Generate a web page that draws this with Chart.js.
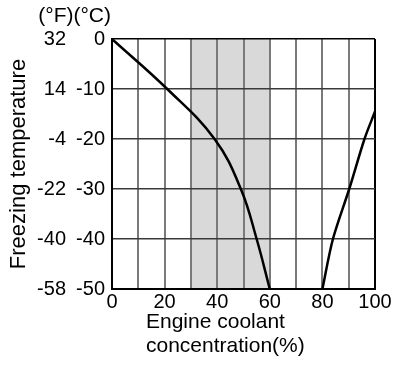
<!DOCTYPE html>
<html>
<head>
<meta charset="utf-8">
<script src="https://cdn.jsdelivr.net/npm/chart.js@4.4.1/dist/chart.umd.min.js"></script>
<style>
  html, body { margin: 0; padding: 0; background: #fff; }
  #wrap { width: 395px; height: 366px; }
</style>
</head>
<body>
<div id="wrap"><canvas id="chart"></canvas></div>
<script>
// coolant concentration (%) vs freezing point (°C)
const lowX = [0, 21, 39, 49, 55, 60];
const lowY = [0, -10, -20, -30, -40, -50];
const highX = [80, 84, 90.2, 96, 100];
const highY = [-50, -40, -30, -20, -14.5];

// recommended range
const bandFrom = 30;
const bandTo = 60;

const xTitle = ["Engine coolant", "concentration(%)"];
const yTitle = "Freezing temperature";
const unitHeader = "(°F)(°C)";

const FONT = "'Liberation Sans', Arial, sans-serif";

const toPoints = (xs, ys) => xs.map((x, i) => ({ x: x, y: ys[i] }));

// grey band behind the grid
const bandPlugin = {
  id: "band",
  beforeDraw(chart) {
    const { ctx, chartArea, scales } = chart;
    const x0 = scales.x.getPixelForValue(bandFrom);
    const x1 = scales.x.getPixelForValue(bandTo);
    ctx.save();
    ctx.fillStyle = "#d9d9d9";
    ctx.fillRect(x0, chartArea.top, x1 - x0, chartArea.bottom - chartArea.top);
    ctx.restore();
  }
};

// unit header and the two-line x title
const textPlugin = {
  id: "texts",
  afterDraw(chart) {
    const { ctx, chartArea } = chart;
    ctx.save();
    ctx.fillStyle = "#000";
    ctx.font = "21px " + FONT;
    ctx.textAlign = "right";
    ctx.textBaseline = "alphabetic";
    ctx.fillText(unitHeader, chartArea.left - 1, 22);
    ctx.textAlign = "left";
    ctx.fillText(xTitle[0], chartArea.left + 34, 328);
    ctx.fillText(xTitle[1], chartArea.left + 34, 352);
    ctx.restore();
  }
};

new Chart(document.getElementById("chart"), {
  type: "scatter",
  data: {
    datasets: [
      { data: toPoints(lowX, lowY), tension: 0.4 },
      { data: toPoints(highX, highY), tension: 0.3 }
    ]
  },
  options: {
    responsive: true,
    maintainAspectRatio: false,
    animation: false,
    showLine: true,
    layout: { padding: { top: 39, right: 20, bottom: 52, left: 0 } },
    elements: {
      point: { radius: 0 },
      line: { borderColor: "#000", borderWidth: 2.5, fill: false }
    },
    plugins: { legend: { display: false }, tooltip: { enabled: false } },
    scales: {
      x: {
        type: "linear",
        min: 0,
        max: 100,
        afterFit: (s) => { s.height = 25; },
        ticks: {
          stepSize: 10,
          autoSkip: false,
          maxRotation: 0,
          padding: 1,
          color: "#000",
          font: { family: FONT, size: 20 },
          callback: (v) => (v % 20 === 0 ? v : "")
        },
        grid: {
          drawTicks: false,
          color: (c) => (c.tick && c.tick.value === 100 ? "#000" : "#7a7a7a"),
          lineWidth: 2
        },
        border: { color: "#000", width: 2 }
      },
      y: {
        type: "linear",
        position: "left",
        weight: 0,
        min: -50,
        max: 0,
        afterFit: (s) => { s.width = 42; },
        ticks: {
          stepSize: 10,
          padding: 7,
          color: "#000",
          font: { family: FONT, size: 20 }
        },
        grid: {
          drawTicks: false,
          color: (c) => (c.tick && c.tick.value === 0 ? "#000" : "#3a3a3a"),
          lineWidth: 1.5
        },
        border: { color: "#000", width: 2 }
      },
      yF: {
        type: "linear",
        position: "left",
        weight: 1,
        min: -50,
        max: 0,
        afterFit: (s) => { s.width = 70; },
        ticks: {
          stepSize: 10,
          padding: 4,
          color: "#000",
          font: { family: FONT, size: 20 },
          callback: (v) => Math.round(v * 9 / 5 + 32)
        },
        grid: { display: false, drawTicks: false },
        border: { display: false },
        title: {
          display: true,
          text: yTitle,
          color: "#000",
          font: { family: FONT, size: 22 },
          padding: { top: 6, bottom: 0 }
        }
      }
    }
  },
  plugins: [bandPlugin, textPlugin]
});
</script>
</body>
</html>
